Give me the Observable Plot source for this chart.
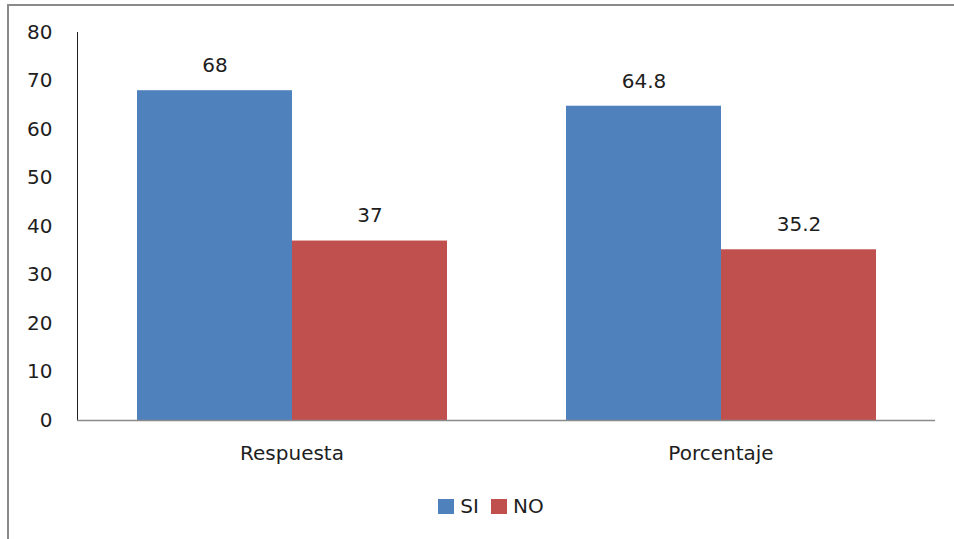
<!DOCTYPE html>
<html>
<head>
<meta charset="utf-8">
<script src="https://cdn.jsdelivr.net/npm/d3@7"></script>
<script src="https://cdn.jsdelivr.net/npm/@observablehq/plot@0.6"></script>
<style>
  html, body { margin: 0; padding: 0; background: #fff; }
  body { width: 954px; height: 539px; position: relative; overflow: hidden; font-family: "DejaVu Sans", sans-serif; }
  #frame { position: absolute; left: 7px; top: 4px; width: 947px; height: 535px; border-top: 2px solid #8a8a8a; border-left: 2px solid #8a8a8a; box-sizing: border-box; }
  #chart { position: absolute; left: 0; top: 0; }
  #legend { position: absolute; top: 494px; left: 0; width: 982px; display: flex; justify-content: center; gap: 12px; font-size: 20px; color: #1e1e1e; }
  .item { display: flex; align-items: center; gap: 6px; }
  .sw { width: 16px; height: 15px; display: inline-block; }
</style>
</head>
<body>
<div id="frame"></div>
<div id="chart"></div>
<div id="legend"></div>
<script>
const categories = ["Respuesta", "Porcentaje"];
const series = ["SI", "NO"];
const siValues = [68, 64.8];
const noValues = [37, 35.2];
const colors = ["#4F81BD", "#C0504D"];
const yTicks = [0, 10, 20, 30, 40, 50, 60, 70, 80];

const rows = [];
categories.forEach((c, i) => {
  rows.push({category: c, serie: "SI", value: siValues[i]});
  rows.push({category: c, serie: "NO", value: noValues[i]});
});

const chart = Plot.plot({
  width: 954,
  height: 480,
  marginLeft: 77,
  marginRight: 19,
  marginTop: 32,
  marginBottom: 60,
  style: {fontFamily: "DejaVu Sans, sans-serif", fontSize: "20px", color: "#1e1e1e", background: "transparent"},
  fx: {domain: categories, padding: 0, axis: "bottom", label: null, tickSize: 0, tickPadding: 25},
  x: {domain: series, paddingInner: 0, paddingOuter: 0.38, axis: null},
  y: {domain: [0, 80], ticks: yTicks, tickSize: 0, tickPadding: 25, label: null, line: true},
  color: {domain: series, range: colors},
  marks: [
    Plot.barY(rows, {fx: "category", x: "serie", y: "value", fill: "serie"}),
    Plot.text(rows, {fx: "category", x: "serie", y: "value", text: d => String(d.value), dy: -25, fontSize: 20, fill: "#1e1e1e"}),
    Plot.ruleY([0], {stroke: "#8a8a8a", strokeWidth: 1.5})
  ]
});
document.getElementById("chart").appendChild(chart);

const legend = document.getElementById("legend");
series.forEach((s, i) => {
  const item = document.createElement("span");
  item.className = "item";
  const sw = document.createElement("span");
  sw.className = "sw";
  sw.style.background = colors[i];
  item.appendChild(sw);
  item.appendChild(document.createTextNode(s));
  legend.appendChild(item);
});
</script>
</body>
</html>
